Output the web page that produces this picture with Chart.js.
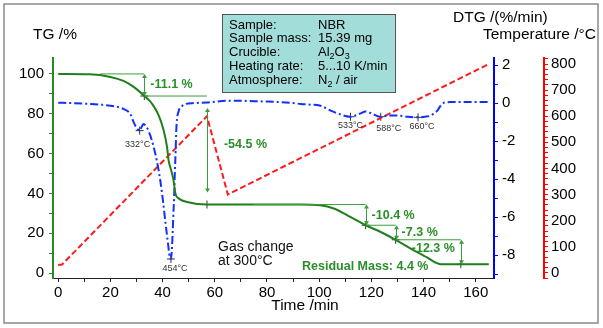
<!DOCTYPE html>
<html>
<head>
<meta charset="utf-8">
<script src="https://cdn.jsdelivr.net/npm/chart.js@4.4.0/dist/chart.umd.min.js"></script>
<style>
    body { margin: 0; background: #fff; }
    canvas { display: block; }
</style>
</head>
<body>
<canvas id="myChart" width="603" height="328"></canvas>
<script>
// TG mass curve (%)
var tgTime  = [0, 12, 20, 25, 28.9, 33, 36, 38.5, 40.4, 41.7, 42.3, 43.3, 44.2, 44.9, 46.2, 49.4, 57, 70, 85, 92.9, 100.5, 105.6, 110.8, 117.8, 123.6, 129.3, 135.1, 141.5, 144.5, 146.6, 150, 165];
var tgValue = [100, 99.8, 98.5, 96.5, 93.5, 88.9, 85, 79.2, 71.7, 63.3, 56.6, 51.5, 46.5, 40, 37.4, 35.7, 34.4, 34.4, 34.4, 34.4, 34, 32.4, 29, 24.0, 20.6, 16.7, 12.3, 7.7, 5.3, 4.4, 4.4, 4.4];

// DTG curve (%/min)
var dtgTime  = [0, 5, 12, 20, 25, 27.6, 28.9, 30, 31.2, 32, 32.7, 33.8, 34.6, 35.9, 37.2, 38.3, 39.1, 40.2, 41.1, 42, 42.7, 43.2, 43.6, 43.9, 44.2, 44.4, 44.6, 45, 45.3, 46.2, 47.5, 48.7, 52, 57, 64.7, 70, 75, 80, 85, 90, 93, 96, 100.5, 104.4, 108.2, 110, 112, 114, 115.9, 117.8, 120.4, 123.6, 126, 130, 133.8, 137.9, 140.5, 142.7, 144.3, 145.3, 146.2, 147.2, 148, 150, 155, 160, 165];
var dtgValue = [0.02, 0, -0.05, -0.14, -0.31, -0.57, -1.0, -1.3, -1.45, -1.25, -1.1, -1.25, -1.45, -1.97, -2.66, -3.4, -4.06, -5.2, -6.3, -7.3, -8.06, -8.2, -7.6, -6.67, -5.6, -5.1, -4.06, -2.5, -1.27, -0.4, -0.15, -0.05, 0, 0.03, 0.12, 0.12, 0.1, 0.08, 0.05, 0, -0.05, -0.08, -0.14, -0.4, -0.6, -0.68, -0.72, -0.65, -0.54, -0.44, -0.57, -0.72, -0.66, -0.66, -0.72, -0.75, -0.72, -0.66, -0.5, -0.4, -0.2, -0.05, 0.03, 0.05, 0.06, 0.06, 0.06];

// temperature program (°C)
var tempTime  = [0, 1.5, 57, 65, 165];
var tempValue = [30, 32, 600, 300, 800];

// DTG peaks
var peakTime  = [31.2, 43.2, 112, 123.6, 137.9];
var peakValue = [-1.45, -8.2, -0.72, -0.72, -0.75];
var peakLabel = ['332°C', '454°C', '533°C', '588°C', '660°C'];

// mass loss steps
var stepTime  = [33, 57, 117.8, 129.3, 154.3];
var stepLoss  = [11.1, 54.5, 10.4, 7.3, 12.3];
var guideFrom = [16, 33, 75, 117.8, 129.3];
var residualMass = 4.4;

// tick labels
var timeLabels = [0, 20, 40, 60, 80, 100, 120, 140, 160];
var tgLabels   = [0, 20, 40, 60, 80, 100];
var dtgLabels  = [-8, -6, -4, -2, 0, 2];
var tempLabels = [0, 100, 200, 300, 400, 500, 600, 700, 800];

var infoLabels = ['Sample:', 'Sample mass:', 'Crucible:', 'Heating rate:', 'Atmosphere:'];
var infoValues = ['NBR', '15.39 mg', 'Al_2O_3', '5...10 K/min', 'N_2 / air'];

var levels = [100];
for (var i = 0; i < stepLoss.length; i++) {
    levels.push(Math.round((levels[i] - stepLoss[i]) * 10) / 10);
}

function pts(xs, ys) {
    var out = [];
    for (var i = 0; i < xs.length; i++) out.push({x: xs[i], y: ys[i]});
    return out;
}

function labelFrom(list) {
    return function (v) {
        for (var i = 0; i < list.length; i++) {
            if (Math.abs(list[i] - v) < 1e-6) return String(list[i]);
        }
        return '';
    };
}

var FONT = '"Liberation Sans", Arial, sans-serif';
var GREEN = '#1f7f1f';
var ANNO = '#3c9c3c';
var BLUE = '#1030ff';
var RED = '#ff1a1a';

function arrowHead(ctx, x, y, dir) {
    ctx.beginPath();
    ctx.moveTo(x, y);
    ctx.lineTo(x - 2.5, y - dir * 4);
    ctx.lineTo(x + 2.5, y - dir * 4);
    ctx.closePath();
    ctx.fill();
}

// text with "_n" subscripts
function subText(ctx, s, x, y, size) {
    var parts = s.split(/(_\d)/);
    for (var i = 0; i < parts.length; i++) {
        var p = parts[i];
        if (!p) continue;
        if (p.charAt(0) === '_') {
            ctx.font = (size - 4) + 'px ' + FONT;
            ctx.fillText(p.substr(1), x, y + 4);
            x += ctx.measureText(p.substr(1)).width;
            ctx.font = size + 'px ' + FONT;
        } else {
            ctx.fillText(p, x, y);
            x += ctx.measureText(p).width;
        }
    }
}

var labelDx = [6, 17, 6, 6, -6];
var labelDy = [0, -6, 1, 0, -3];
var peakDx = [-2, 4, 0, 8, 4];
var peakDy = [14, 10, 9, 12, 9];
var arrowTrim = [0, 6, 0, 0, 0];

var extras = {
    id: 'extras',
    afterDatasetsDraw: function (chart) {
        var ctx = chart.ctx;
        var sx = chart.scales.x, sy = chart.scales.yTG, sd = chart.scales.yDTG;
        ctx.save();

        // step guides and arrows
        ctx.strokeStyle = ANNO;
        ctx.fillStyle = ANNO;
        ctx.lineWidth = 1;
        for (var i = 0; i < stepTime.length; i++) {
            var y0 = sy.getPixelForValue(levels[i]);
            ctx.beginPath();
            ctx.moveTo(sx.getPixelForValue(guideFrom[i]), y0);
            ctx.lineTo(sx.getPixelForValue(stepTime[i]), y0);
            ctx.stroke();

            var ax = Math.round(sx.getPixelForValue(stepTime[i])) + 0.5;
            var ya = sy.getPixelForValue(levels[i] - arrowTrim[i]);
            var yb = sy.getPixelForValue(levels[i + 1] + arrowTrim[i]);
            ctx.beginPath();
            ctx.moveTo(ax, ya + 3);
            ctx.lineTo(ax, yb - 3);
            ctx.stroke();
            arrowHead(ctx, ax, ya, -1);
            arrowHead(ctx, ax, yb, 1);
        }

        ctx.font = 'bold 12.5px ' + FONT;
        ctx.fillStyle = '#2a8f2a';
        ctx.textBaseline = 'middle';
        for (var j = 0; j < stepTime.length; j++) {
            var tx = sx.getPixelForValue(stepTime[j]) + labelDx[j];
            var ty = (sy.getPixelForValue(levels[j]) + sy.getPixelForValue(levels[j + 1])) / 2 + labelDy[j];
            ctx.textAlign = labelDx[j] < 0 ? 'right' : 'left';
            ctx.fillText('-' + stepLoss[j].toFixed(1) + ' %', tx, ty);
        }
        ctx.textAlign = 'left';
        ctx.fillText('Residual Mass: ' + residualMass + ' %', 302, 267);

        // peak temperatures
        ctx.font = '9px ' + FONT;
        ctx.fillStyle = '#333';
        ctx.textAlign = 'center';
        for (var k = 0; k < peakTime.length; k++) {
            ctx.fillText(peakLabel[k], sx.getPixelForValue(peakTime[k]) + peakDx[k], sd.getPixelForValue(peakValue[k]) + peakDy[k]);
        }

        ctx.font = '14px ' + FONT;
        ctx.fillStyle = '#111';
        ctx.textAlign = 'left';
        ctx.fillText('Gas change', 218, 247);
        ctx.fillText('at 300°C', 218, 261);
        ctx.restore();
    },
    afterDraw: function (chart) {
        var ctx = chart.ctx;
        ctx.save();

        // axis titles
        ctx.fillStyle = '#000';
        ctx.textBaseline = 'middle';
        ctx.font = '15.5px ' + FONT;
        ctx.textAlign = 'left';
        ctx.fillText('TG /%', 33, 35);
        ctx.fillText('DTG /(%/min)', 453, 18);
        ctx.textAlign = 'right';
        ctx.fillText('Temperature /°C', 596, 35);
        ctx.textAlign = 'center';
        ctx.fillText('Time /min', 305, 306);

        // measurement info box
        ctx.fillStyle = '#a3ddda';
        ctx.fillRect(222, 14, 173, 78);
        ctx.strokeStyle = '#555';
        ctx.lineWidth = 1;
        ctx.strokeRect(222.5, 14.5, 173, 78);
        ctx.fillStyle = '#000';
        ctx.textAlign = 'left';
        ctx.font = '13px ' + FONT;
        for (var i = 0; i < infoLabels.length; i++) {
            var ry = 25 + i * 13.8;
            ctx.fillText(infoLabels[i], 229, ry);
            subText(ctx, infoValues[i], 318, ry, 13);
        }

        // frame
        ctx.strokeStyle = '#8a8a8a';
        ctx.lineWidth = 1.5;
        ctx.strokeRect(4, 4, 594, 319);
        ctx.restore();
    }
};

Chart.defaults.font.family = FONT;
Chart.defaults.font.size = 15;
Chart.defaults.color = '#000';

var ctx = document.getElementById('myChart');
var chart = new Chart(ctx, {
    type: 'line',
    data: {
        datasets: [{
            label: 'TG',
            data: pts(tgTime, tgValue),
            yAxisID: 'yTG',
            borderColor: GREEN,
            borderWidth: 2,
            cubicInterpolationMode: 'monotone',
            pointRadius: 0
        }, {
            label: 'DTG',
            data: pts(dtgTime, dtgValue),
            yAxisID: 'yDTG',
            borderColor: BLUE,
            borderWidth: 2,
            borderDash: [8, 3, 2, 3],
            cubicInterpolationMode: 'monotone',
            pointRadius: 0
        }, {
            label: 'Temperature',
            data: pts(tempTime, tempValue),
            yAxisID: 'yT',
            borderColor: RED,
            borderWidth: 2,
            borderDash: [6, 3],
            tension: 0,
            pointRadius: 0
        }, {
            label: 'peaks',
            data: pts(peakTime, peakValue),
            yAxisID: 'yDTG',
            showLine: false,
            pointStyle: 'cross',
            pointRadius: 4,
            borderColor: '#333',
            borderWidth: 1
        }, {
            label: 'steps',
            data: pts(stepTime, levels.slice(1)),
            yAxisID: 'yTG',
            showLine: false,
            pointStyle: 'cross',
            pointRadius: 4,
            borderColor: '#333',
            borderWidth: 1
        }]
    },
    options: {
        responsive: false,
        animation: false,
        layout: { padding: { top: 58, left: 0, right: 0, bottom: 0 } },
        plugins: {
            legend: { display: false },
            tooltip: { enabled: false }
        },
        scales: {
            x: {
                type: 'linear',
                position: 'bottom',
                min: -2,
                max: 167,
                afterFit: function (s) { s.height = 50; },
                border: { color: '#222', width: 1 },
                grid: { drawOnChartArea: false, tickLength: 4, color: '#222' },
                ticks: { stepSize: 10, autoSkip: false, includeBounds: false, maxRotation: 0, padding: 2, callback: labelFrom(timeLabels) }
            },
            yTG: {
                type: 'linear',
                position: 'left',
                min: -2.5,
                max: 108,
                afterFit: function (s) { s.width = 53; },
                border: { color: '#2a8a2a', width: 2 },
                grid: { drawOnChartArea: false, tickLength: 4, color: '#2a8a2a' },
                ticks: { stepSize: 10, autoSkip: false, includeBounds: false, padding: 5, callback: labelFrom(tgLabels) }
            },
            yDTG: {
                type: 'linear',
                position: 'right',
                min: -9.2,
                max: 2.37,
                afterFit: function (s) { s.width = 50; },
                border: { color: '#0000ff', width: 2 },
                grid: { drawOnChartArea: false, tickLength: 4, color: '#0000ff' },
                ticks: { stepSize: 1, autoSkip: false, includeBounds: false, padding: 4, callback: labelFrom(dtgLabels) }
            },
            yT: {
                type: 'linear',
                position: 'right',
                min: -20,
                max: 823,
                afterFit: function (s) { s.width = 59; },
                border: { color: '#ff0000', width: 2 },
                grid: { drawOnChartArea: false, tickLength: 4, color: '#ff0000' },
                ticks: { stepSize: 20, autoSkip: false, includeBounds: false, padding: 3, callback: labelFrom(tempLabels) }
            }
        }
    },
    plugins: [extras]
});
</script>
</body>
</html>
